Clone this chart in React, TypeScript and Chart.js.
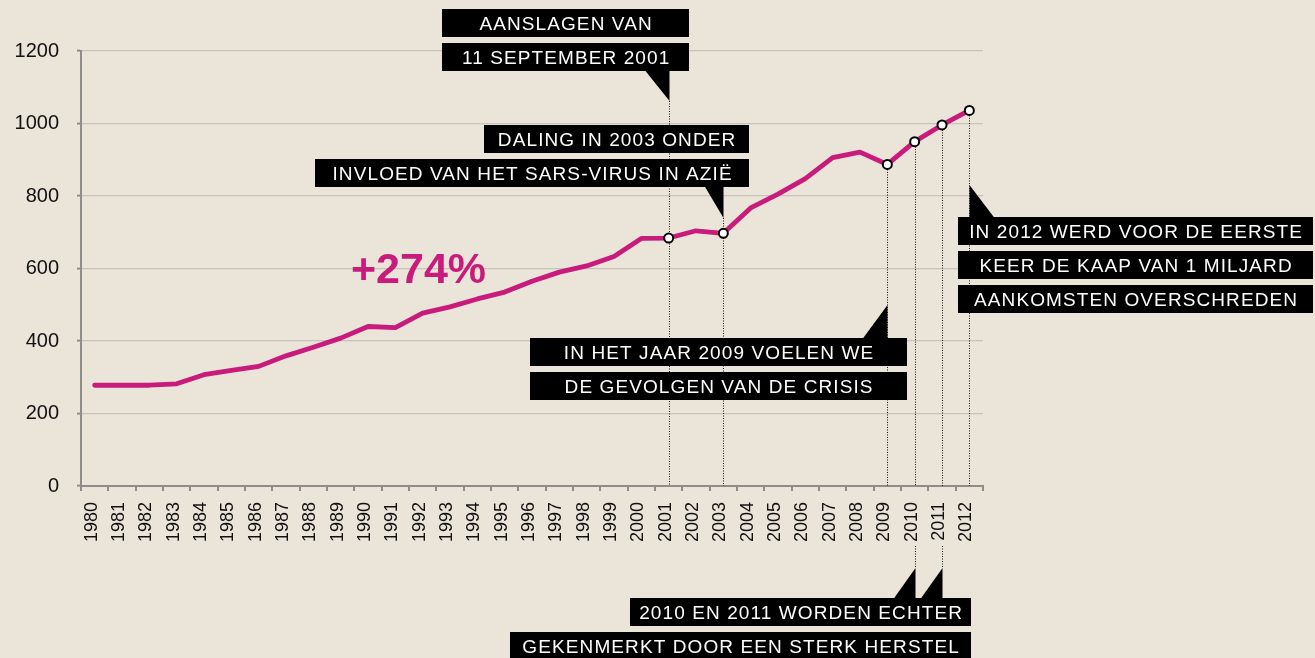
import React, { useEffect, useRef } from 'react';
import { Chart, registerables } from 'chart.js';

Chart.register(...registerables);

// ---- data ----
const years = [
  '1980', '1981', '1982', '1983', '1984', '1985', '1986', '1987', '1988', '1989',
  '1990', '1991', '1992', '1993', '1994', '1995', '1996', '1997', '1998', '1999',
  '2000', '2001', '2002', '2003', '2004', '2005', '2006', '2007', '2008', '2009',
  '2010', '2011', '2012',
];
const arrivals = [
  278, 278, 278, 282, 307, 319, 330, 359, 383, 408,
  440, 437, 477, 494, 516, 535, 565, 590, 607, 633,
  683, 684, 704, 697, 767, 805, 848, 906, 921, 887,
  950, 996, 1036,
];
const markedYears = ['2001', '2003', '2009', '2010', '2011', '2012'];
const yTicks = [0, 200, 400, 600, 800, 1000, 1200];
const growthLabel = '+274%';

const note2001 = ['AANSLAGEN VAN', '11 SEPTEMBER 2001'];
const note2003 = ['DALING IN 2003 ONDER', 'INVLOED VAN HET SARS-VIRUS IN AZIË'];
const note2009 = ['IN HET JAAR 2009 VOELEN WE', 'DE GEVOLGEN VAN DE CRISIS'];
const note2010 = ['2010 EN 2011 WORDEN ECHTER', 'GEKENMERKT DOOR EEN STERK HERSTEL'];
const note2012 = ['IN 2012 WERD VOOR DE EERSTE', 'KEER DE KAAP VAN 1 MILJARD', 'AANKOMSTEN OVERSCHREDEN'];

// ---- styles ----
const BG = '#eae4d9';
const LINE = '#c91b7c';
const AXIS = '#8e8d8a';
const GRID = '#c6c3bd';
const FONT = '"Liberation Sans", Arial, sans-serif';
const ROW_H = 28;
const ROW_PITCH = 34;

type Row = { x1: number; x2: number };
type Callout = {
  lines: string[];
  rows: Row[];
  top: number;
  pointers: { year: string; apexIdx: number; tri: (x: number) => [number, number][] }[];
};

const callouts: Callout[] = [
  {
    lines: note2001,
    rows: [{ x1: 442, x2: 689 }, { x1: 442, x2: 689 }],
    top: 9,
    pointers: [{ year: '2001', apexIdx: 2, tri: (x) => [[x - 24, 71], [x, 71], [x, 101]] }],
  },
  {
    lines: note2003,
    rows: [{ x1: 484, x2: 749 }, { x1: 315, x2: 749 }],
    top: 125,
    pointers: [{ year: '2003', apexIdx: 2, tri: (x) => [[x - 19, 186], [x, 186], [x, 218]] }],
  },
  {
    lines: note2012,
    rows: [{ x1: 958, x2: 1313 }, { x1: 958, x2: 1313 }, { x1: 958, x2: 1313 }],
    top: 217,
    pointers: [{ year: '2012', apexIdx: 0, tri: (x) => [[x, 185], [x, 218], [x + 25, 218]] }],
  },
  {
    lines: note2009,
    rows: [{ x1: 530, x2: 907 }, { x1: 530, x2: 907 }],
    top: 338,
    pointers: [{ year: '2009', apexIdx: 0, tri: (x) => [[x, 305], [x, 339], [x - 25, 339]] }],
  },
  {
    lines: note2010,
    rows: [{ x1: 630, x2: 971 }, { x1: 510, x2: 971 }],
    top: 598,
    pointers: [
      { year: '2010', apexIdx: 0, tri: (x) => [[x, 568], [x, 599], [x - 22, 599]] },
      { year: '2011', apexIdx: 0, tri: (x) => [[x, 568], [x, 599], [x - 22, 599]] },
    ],
  },
];

const annotations = {
  id: 'annotations',
  beforeDatasetsDraw(chart: any) {
    const { ctx, scales, chartArea } = chart;
    const xs = scales.x;
    const ys = scales.y;
    ctx.save();
    ctx.strokeStyle = '#111';
    ctx.lineWidth = 1;
    ctx.setLineDash([1, 1.5]);
    const seg = (x: number, a: number, b: number) => {
      ctx.beginPath();
      ctx.moveTo(x, a);
      ctx.lineTo(x, b);
      ctx.stroke();
    };
    markedYears.forEach((yr) => {
      const i = years.indexOf(yr);
      const px = Math.round(xs.getPixelForValue(i)) + 0.5;
      const py = ys.getPixelForValue(arrivals[i]);
      let top = py;
      callouts.forEach((c) =>
        c.pointers.forEach((p) => {
          if (p.year === yr) {
            const apex = p.tri(px)[p.apexIdx][1];
            if (apex < chartArea.bottom) top = Math.min(top, apex);
            else seg(px, chartArea.bottom + 60, apex);
          }
        })
      );
      seg(px, top, chartArea.bottom);
    });
    ctx.restore();
  },
  afterDraw(chart: any) {
    const { ctx, scales } = chart;
    const xs = scales.x;
    ctx.save();
    // growth label
    ctx.fillStyle = LINE;
    ctx.font = `bold 43px ${FONT}`;
    ctx.textAlign = 'left';
    ctx.textBaseline = 'alphabetic';
    ctx.fillText(growthLabel, 351, 283);

    // callouts
    callouts.forEach((c) => {
      ctx.fillStyle = '#000';
      c.pointers.forEach((p) => {
        const px = Math.round(xs.getPixelForValue(years.indexOf(p.year))) + 0.5;
        const pts = p.tri(px);
        ctx.beginPath();
        ctx.moveTo(pts[0][0], pts[0][1]);
        ctx.lineTo(pts[1][0], pts[1][1]);
        ctx.lineTo(pts[2][0], pts[2][1]);
        ctx.closePath();
        ctx.fill();
      });
      c.lines.forEach((txt, k) => {
        const r = c.rows[k];
        const top = c.top + k * ROW_PITCH;
        ctx.fillStyle = '#000';
        ctx.fillRect(r.x1, top, r.x2 - r.x1, ROW_H);
        ctx.fillStyle = '#fff';
        ctx.font = `19px ${FONT}`;
        (ctx as any).letterSpacing = '1.1px';
        ctx.textAlign = 'center';
        ctx.textBaseline = 'alphabetic';
        ctx.fillText(txt, (r.x1 + r.x2) / 2 + 0.6, top + 21);
      });
    });
    ctx.restore();
  },
};

export default function App() {
  const ref = useRef<HTMLCanvasElement>(null);
  useEffect(() => {
    document.body.style.margin = '0';
    document.body.style.background = BG;
    const canvas = ref.current!;
    const chart = new Chart(canvas, {
      type: 'line',
      data: {
        labels: years,
        datasets: [
          {
            data: arrivals,
            borderColor: LINE,
            borderWidth: 4.8,
            tension: 0,
            borderCapStyle: 'round',
            borderJoinStyle: 'round',
            pointRadius: (ctx: any) => (markedYears.includes(years[ctx.dataIndex]) ? 4.5 : 0),
            pointBorderWidth: 2,
            pointBorderColor: '#000',
            pointBackgroundColor: '#fff',
            fill: false,
          },
        ],
      },
      options: {
        responsive: false,
        animation: false,
        events: [],
        layout: { padding: { top: 51, right: 332, bottom: 0, left: 0 } },
        plugins: { legend: { display: false }, tooltip: { enabled: false } },
        scales: {
          x: {
            type: 'category',
            offset: true,
            afterFit: (s: any) => {
              s.height = 172;
            },
            grid: {
              offset: true,
              drawOnChartArea: false,
              drawTicks: true,
              tickLength: 5,
              color: AXIS,
              lineWidth: 2,
            },
            border: { color: AXIS, width: 2 },
            ticks: {
              autoSkip: false,
              minRotation: 90,
              maxRotation: 90,
              padding: 11,
              labelOffset: -3,
              color: '#111',
              font: { family: FONT, size: 18 },
            },
          },
          y: {
            min: 0,
            max: 1200,
            afterFit: (s: any) => {
              s.width = 81;
            },
            afterBuildTicks: (s: any) => {
              s.ticks = yTicks.map((v) => ({ value: v }));
            },
            grid: {
              color: GRID,
              lineWidth: 1.2,
              tickLength: 4,
              tickColor: AXIS,
              tickWidth: 2,
            },
            border: { color: AXIS, width: 2 },
            ticks: {
              padding: 18,
              color: '#111',
              font: { family: FONT, size: 20 },
              callback: (v: any) => String(v),
            },
          },
        },
      },
      plugins: [annotations],
    } as any);
    return () => chart.destroy();
  }, []);
  return (
    <div style={{ position: 'absolute', left: 0, top: 0, width: 1315, height: 658, background: BG, overflow: 'hidden' }}>
      <canvas ref={ref} width={1315} height={658} style={{ display: 'block', width: 1315, height: 658 }} />
    </div>
  );
}
